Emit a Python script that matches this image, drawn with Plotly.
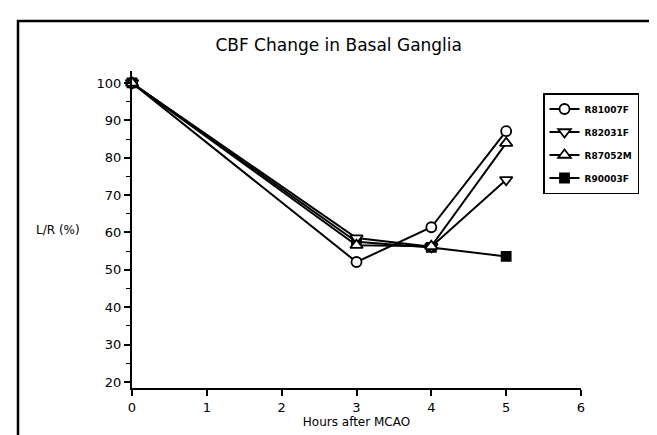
import plotly.graph_objects as go

hours = [0, 3, 4, 5]
r81007f = [100, 52.1, 61.4, 87.1]
r82031f = [100, 58.5, 56.2, 74.1]
r87052m = [100, 56.6, 56.3, 83.9]
r90003f = [100, 57.5, 56.0, 53.6]

names = ["R81007F", "R82031F", "R87052M", "R90003F"]
series = [r81007f, r82031f, r87052m, r90003f]
symbols = ["circle", "triangle-down", "triangle-up", "square"]
sizes = [10, 11, 11, 9]
draw_order = [3, 0, 1, 2]

W, H = 657, 435
L, R, T, B = 124, 84, 63, 55

fig = go.Figure()
for i in draw_order:
    sym = symbols[i]
    fig.add_trace(go.Scatter(
        x=hours, y=series[i], name=names[i], mode="lines+markers",
        legendrank=i + 1, legendgroup=names[i],
        line=dict(color="black", width=2),
        marker=dict(symbol=sym, size=sizes[i],
                    color="black" if sym == "square" else "white",
                    line=dict(color="black", width=1.8)),
        cliponaxis=False,
    ))

pw = W - L - R
ph = H - T - B

def px(x):
    return (x - L) / pw

def py(y):
    return (H - B - y) / ph

fig.update_layout(
    width=W, height=H,
    margin=dict(l=L, r=R, t=T, b=B),
    paper_bgcolor="white", plot_bgcolor="white",
    font=dict(family="DejaVu Sans, sans-serif", color="black", size=13),
    title=dict(text="CBF Change in Basal Ganglia", x=px(350), xanchor="center",
               y=1 - 37 / H, yanchor="middle",
               font=dict(size=17, family="DejaVu Sans, sans-serif", color="black")),
    showlegend=True,
    legend=dict(x=px(535), y=py(85), xanchor="left", yanchor="top",
                bordercolor="black", borderwidth=1.5, bgcolor="white",
                font=dict(size=9, family="DejaVu Sans, sans-serif", color="black",
                          weight="bold"),
                itemwidth=30, tracegroupgap=4, traceorder="grouped"),
    xaxis=dict(range=[0, 6], tickvals=[0, 1, 2, 3, 4, 5, 6],
               showline=True, linecolor="black", linewidth=2,
               ticks="outside", ticklen=6, tickwidth=1.5, tickcolor="black",
               showgrid=False, zeroline=False,
               title=dict(text="Hours after MCAO", font=dict(size=12), standoff=4),
               tickfont=dict(size=13)),
    yaxis=dict(range=[18.4, 103.2], tickvals=[20, 30, 40, 50, 60, 70, 80, 90, 100],
               showline=True, linecolor="black", linewidth=2,
               ticks="outside", ticklen=6, tickwidth=1.5, tickcolor="black",
               minor=dict(tickvals=[25, 35, 45, 55, 65, 75, 85, 95], ticks="outside",
                          ticklen=4, tickwidth=1.2, tickcolor="black"),
               showgrid=False, zeroline=False, tickfont=dict(size=13)),
    shapes=[dict(type="rect", xref="paper", yref="paper",
                 x0=px(10), x1=px(680), y0=py(460), y1=py(13),
                 line=dict(color="black", width=2.5))],
    annotations=[dict(text="L/R (%)", xref="paper", yref="paper",
                      x=px(50), y=py(222), xanchor="center", yanchor="middle",
                      showarrow=False, font=dict(size=12))],
)

fig.write_html("out.html")
